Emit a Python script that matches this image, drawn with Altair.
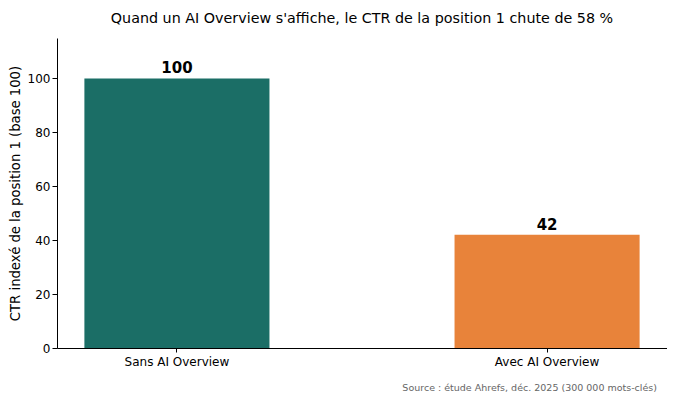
import altair as alt
import pandas as pd

categories = ["Sans AI Overview", "Avec AI Overview"]
values = [100, 42]
colors = ["#1b6e66", "#e8833a"]
title = "Quand un AI Overview s'affiche, le CTR de la position 1 chute de 58 %"
y_title = "CTR indexé de la position 1 (base 100)"
source = "Source : étude Ahrefs, déc. 2025 (300 000 mots-clés)"

df = pd.DataFrame({"cat": categories, "val": values, "color": colors,
                   "label": [str(v) for v in values]})

FONT = "DejaVu Sans"

x_enc = alt.X("cat:N", sort=categories, title=None,
              scale=alt.Scale(paddingInner=0.5, paddingOuter=0.074),
              axis=alt.Axis(labelAngle=0, labelFontSize=12, labelColor="black",
                            domainColor="black", tickColor="black", tickSize=4,
                            labelPadding=4, labelFont=FONT))
y_enc = alt.Y("val:Q", title=y_title,
              scale=alt.Scale(domain=[0, 115], nice=False),
              axis=alt.Axis(values=[0, 20, 40, 60, 80, 100], grid=False,
                            labelFontSize=12, labelColor="black", labelFont=FONT,
                            domainColor="black", tickColor="black", tickSize=5,
                            labelPadding=2,
                            titleFontSize=13.2, titleFontWeight="normal",
                            titleColor="black", titleFont=FONT, titlePadding=5))

base = alt.Chart(df)
bars = base.mark_bar().encode(
    x=x_enc, y=y_enc,
    color=alt.Color("color:N", scale=None)
)
labels = base.mark_text(baseline="bottom", dy=-2, fontSize=15, fontWeight="bold",
                        font=FONT, color="black").encode(
    x=alt.X("cat:N", sort=categories), y="val:Q", text="label:N"
)
src = alt.Chart(pd.DataFrame({"t": [source]})).mark_text(
    align="right", baseline="alphabetic", fontSize=9.5, font=FONT, color="#666666"
).encode(x=alt.value(600), y=alt.value(353), text="t:N")

chart = alt.layer(bars, labels, src).properties(
    width=610, height=310,
    background="white",
    title=alt.TitleParams(title, fontSize=14.3, fontWeight="normal", font=FONT,
                          color="black", anchor="middle", offset=12),
    autosize=alt.AutoSizeParams(type="none"),
    padding={"left": 49, "top": 30, "right": 0, "bottom": 44},
).configure_view(stroke="transparent", strokeWidth=0)

chart.save("out.html", embed_options={"renderer": "svg", "actions": False})
